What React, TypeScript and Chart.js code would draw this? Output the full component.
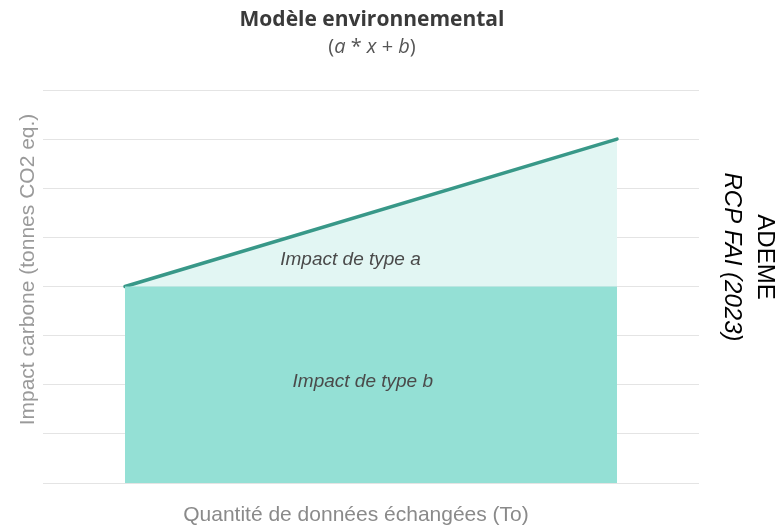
import React, { useEffect, useRef } from "react";
import { Chart, registerables } from "chart.js";

Chart.register(...registerables);

const TITLE = "Modèle environnemental";
const SUBTITLE_PARTS = [
  { t: "(", i: false },
  { t: "a", i: true },
  { t: " * ", i: false },
  { t: "x", i: true },
  { t: " + ", i: false },
  { t: "b", i: true },
  { t: ")", i: false },
];
const Y_TITLE = "Impact carbone (tonnes CO2 eq.)";
const X_TITLE = "Quantité de données échangées (To)";
const SOURCE_LINES = ["ADEME", "RCP FAI (2023)"];

const X_RANGE = [0, 8];
const Y_RANGE = [0, 8];
const X_POINTS = [1, 7];
const BASE_B = [4, 4];
const TOTAL_AB = [4, 7];
const AREA_LABELS = ["Impact de type a", "Impact de type b"];
const AREA_LABEL_X = [3.75, 3.9];
const AREA_LABEL_Y = [4.55, 2.07];

const textPlugin = {
  id: "texts",
  afterDraw(chart: any) {
    const { ctx, chartArea } = chart;
    const xs = chart.scales.x;
    const ys = chart.scales.y;
    ctx.save();
    const cx = (chartArea.left + chartArea.right) / 2 + 1;
    // title
    ctx.fillStyle = "#3a3a3a";
    ctx.font = "bold 21px 'Open Sans', sans-serif";
    ctx.textAlign = "center";
    ctx.textBaseline = "middle";
    ctx.fillText(TITLE, cx, 20);
    // subtitle with italic parts
    const fontN = "20px 'Open Sans', sans-serif";
    const fontI = "italic 20px 'Open Sans', sans-serif";
    let total = 0;
    for (const p of SUBTITLE_PARTS) {
      ctx.font = p.i ? fontI : fontN;
      total += ctx.measureText(p.t).width;
    }
    let sx = cx - total / 2;
    ctx.textAlign = "left";
    ctx.fillStyle = "#555";
    for (const p of SUBTITLE_PARTS) {
      ctx.font = p.i ? fontI : fontN;
      ctx.fillText(p.t, sx, 47);
      sx += ctx.measureText(p.t).width;
    }
    // area labels
    ctx.textAlign = "center";
    ctx.fillStyle = "#4a4a4a";
    ctx.font = "italic 19px 'Liberation Sans', Arial, sans-serif";
    AREA_LABELS.forEach((l, i) => {
      ctx.fillText(l, xs.getPixelForValue(AREA_LABEL_X[i]), ys.getPixelForValue(AREA_LABEL_Y[i]));
    });
    // y title
    ctx.fillStyle = "#9a9a9a";
    ctx.font = "21px 'Liberation Sans', Arial, sans-serif";
    ctx.save();
    ctx.translate(chartArea.left - 15, (chartArea.top + chartArea.bottom) / 2 - 17);
    ctx.rotate(-Math.PI / 2);
    ctx.fillText(Y_TITLE, 0, 0);
    ctx.restore();
    // x title
    ctx.fillStyle = "#8a8a8a";
    ctx.fillText(X_TITLE, cx - 16, chartArea.bottom + 32);
    // source
    ctx.fillStyle = "#000";
    ctx.save();
    ctx.translate(chartArea.right + 49, 257);
    ctx.rotate(Math.PI / 2);
    ctx.font = "24px 'Liberation Sans', Arial, sans-serif";
    ctx.fillText(SOURCE_LINES[0], 0, -17);
    ctx.font = "italic 24px 'Liberation Sans', Arial, sans-serif";
    ctx.fillText(SOURCE_LINES[1], 0, 16);
    ctx.restore();
    ctx.restore();
  },
};

export default function App() {
  const ref = useRef<HTMLCanvasElement>(null);
  useEffect(() => {
    const chart = new Chart(ref.current!, {
      type: "line",
      data: {
        datasets: [
          {
            label: "b",
            data: X_POINTS.map((x, i) => ({ x, y: BASE_B[i] })),
            fill: "origin",
            backgroundColor: "rgb(148,224,213)",
            borderWidth: 0,
            pointRadius: 0,
          },
          {
            label: "a",
            data: X_POINTS.map((x, i) => ({ x, y: TOTAL_AB[i] })),
            fill: "-1",
            backgroundColor: "rgb(226,246,243)",
            borderColor: "rgb(56,152,136)",
            borderWidth: 3.5,
            borderCapStyle: "round",
            pointRadius: 0,
          },
        ],
      },
      options: {
        animation: false,
        responsive: true,
        maintainAspectRatio: false,
        layout: { padding: { left: 43, right: 79, top: 90, bottom: 47 } },
        plugins: { legend: { display: false }, tooltip: { enabled: false }, title: { display: false } },
        scales: {
          x: {
            type: "linear",
            min: X_RANGE[0],
            max: X_RANGE[1],
            display: false,
          },
          y: {
            type: "linear",
            min: Y_RANGE[0],
            max: Y_RANGE[1],
            ticks: { display: false, stepSize: 1 },
            grid: { color: "#e4e4e4", drawTicks: false, lineWidth: 1 },
            border: { display: false },
          },
        },
      },
      plugins: [textPlugin],
    });
    return () => chart.destroy();
  }, []);
  return (
    <div style={{ position: "fixed", left: 0, top: 0, width: 778, height: 530, background: "#fff" }}>
      <canvas ref={ref} />
    </div>
  );
}
